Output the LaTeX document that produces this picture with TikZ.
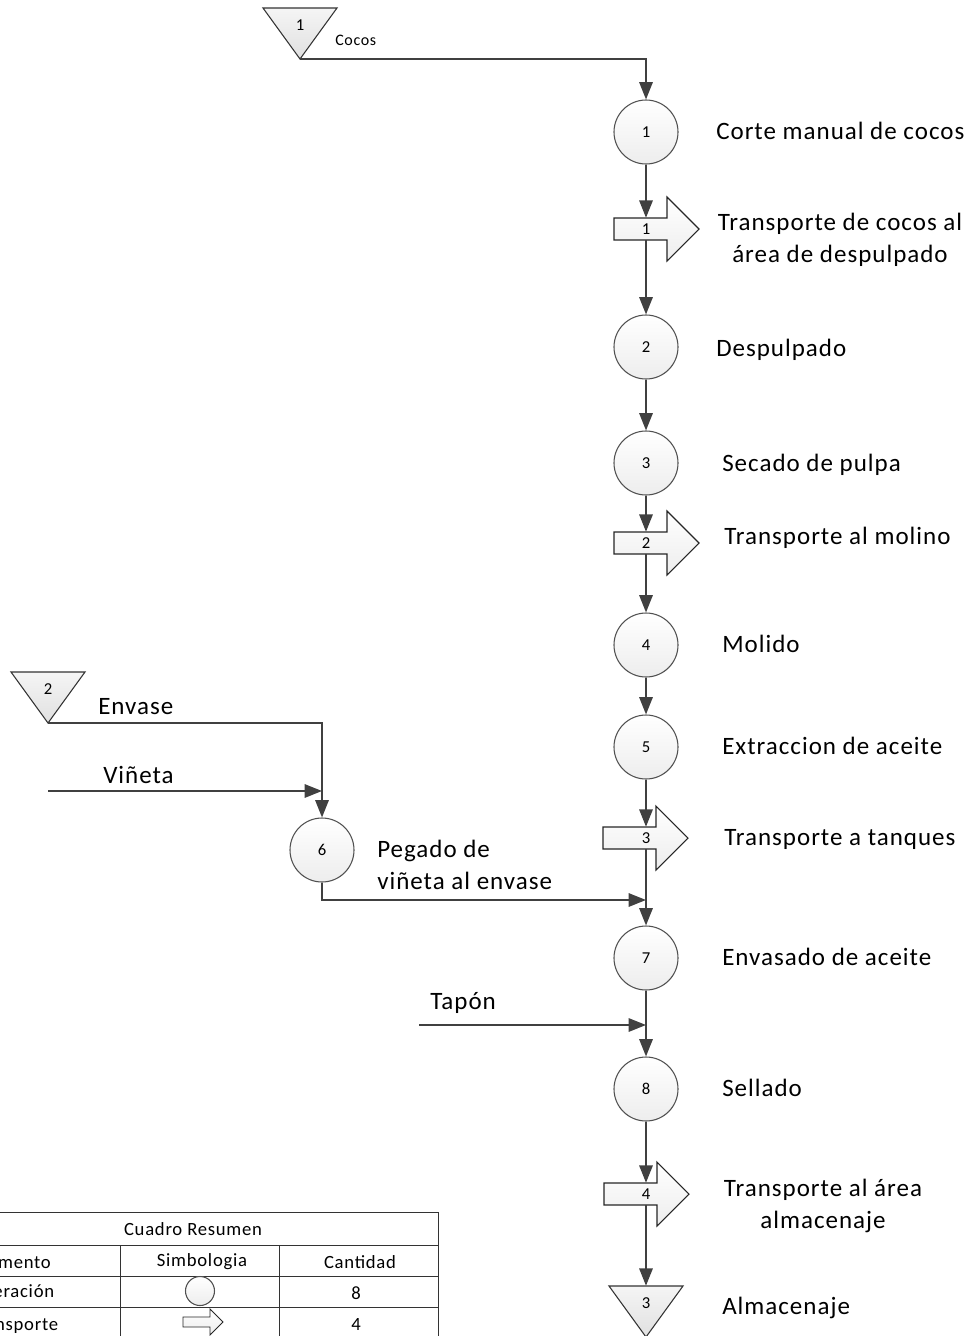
\documentclass[tikz,border=0pt]{standalone}
\usepackage{fontspec}
\setmainfont{Carlito}[LetterSpace=4]
\usetikzlibrary{arrows.meta,positioning,calc}
\definecolor{linegray}{HTML}{404040}
\definecolor{edgegray}{HTML}{505050}
\newcommand{\lblsize}{\fontsize{18.75pt}{24pt}\selectfont}
\newcommand{\numsize}{\fontsize{12.5pt}{14pt}\selectfont}
\newcommand{\tabsize}{\fontsize{14pt}{16pt}\selectfont}
\tikzset{
      flow/.style = {draw=linegray, line width=1.5pt,
                     -{Triangle[length=13pt,width=10pt]}},   % connectors
      oper/.style = {circle, draw=edgegray, line width=.8pt, minimum size=48pt,
                     inner sep=0pt, top color=white, bottom color=black!7,
                     font=\numsize},
    tshape/.style = {draw=black!85, line width=.8pt, top color=white,
                     bottom color=black!7},
      tnum/.style = {inner sep=0pt, minimum height=16.5pt, font=\numsize},
    sshape/.style = {draw=black!80, line width=.8pt, top color=black!4,
                     bottom color=black!12},
      snum/.style = {inner sep=0pt, minimum height=25.5pt, font=\numsize},
       lbl/.style = {anchor=mid west, inner sep=0pt, font=\lblsize, yshift=-3.5pt},
      tabl/.style = {draw=black!80, line width=.75pt},
      ttxt/.style = {inner sep=0pt, font=\tabsize},
}
% transport arrow: name, number point, body left offset, number
\newcommand{\transp}[4]{%
  \draw[tshape] ($(#2)+(#3,-11)$) -- ++(53,0) -- ++(0,-21) -- ++(32,32)
     -- ++(-32,32) -- ++(0,-21) -- ++(-53,0) -- cycle;
  \node[tnum] (#1) at (#2) {#4};}
% storage triangle: name, top centre, number
\newcommand{\almac}[3]{%
  \draw[sshape] ($(#2)+(-37,0)$) -- ++(74,0) -- ++(-37,51) -- cycle;
  \node[snum] (#1) at ($(#2)+(0,17)$) {#3};
  \coordinate (#1-tip) at ($(#2)+(0,51)$);}

\begin{document}
\begin{tikzpicture}[x=0.75pt,y=-0.75pt]
\clip (0,0) rectangle (968,1336);

% operations
\node[oper] (c1) at (646,132) {1};
\node[oper] (c2) at (646,347) {2};
\node[oper] (c3) at (646,463) {3};
\node[oper] (c4) at (646,645) {4};
\node[oper] (c5) at (646,747) {5};
\node[oper] (c6) at (322,850) {6};
\node[oper] (c7) at (646,958) {7};
\node[oper] (c8) at (646,1089) {8};

% transports
\transp{t1}{646,229}{-32}{1}
\transp{t2}{646,543}{-32}{2}
\transp{t3}{646,838}{-43}{3}
\transp{t4}{646,1194}{-42}{4}

% storage
\almac{s1}{300,8}{1}
\almac{s2}{48,672}{2}
\almac{s3}{646,1286}{3}

\coordinate (vin) at (48,791);
\coordinate (tap) at (419,1025);
\coordinate (j7) at (646,900);

% main line
\draw[flow] (s1-tip) -| (c1);
\draw[flow] (c1) -- (t1);
\draw[flow] (t1) -- (c2);
\draw[flow] (c2) -- (c3);
\draw[flow] (c3) -- (t2);
\draw[flow] (t2) -- (c4);
\draw[flow] (c4) -- (c5);
\draw[flow] (c5) -- (t3);
\draw[flow] (t3) -- (c7);
\draw[flow] (c7) -- (c8);
\draw[flow] (c8) -- (t4);
\draw[flow] (t4) -- (s3);
% side line
\draw[flow] (s2-tip) -| (c6);
\draw[flow] (vin) -- (vin -| c6);
\draw[flow] (c6) |- (j7);
\draw[flow] (tap) -- (tap -| c7);

% labels
\node[lbl, font=\fontsize{12pt}{14pt}\selectfont, yshift=-1pt] (lcocos) at (335,36) {Cocos};
\node[lbl] (lenv) at (98,707) {Envase};
\node[lbl] (lvin) at (103,776) {Viñeta};
\node[lbl, anchor=west, align=left, yshift=3pt] (l6) at (377,864) {Pegado de\\viñeta al envase};
\node[lbl] (ltap) at (430,1002) {Tapón};
\node[lbl] (l1) at (716,132) {Corte manual de cocos};
\node[lbl, anchor=center, align=center, yshift=2pt] (lt1) at (840,238) {Transporte de cocos al\\área de despulpado};
\node[lbl] (l2) at (716,349) {Despulpado};
\node[lbl] (l3) at (722,464) {Secado de pulpa};
\node[lbl] (lt2) at (724,537) {Transporte al molino};
\node[lbl] (l4) at (722,645) {Molido};
\node[lbl] (l5) at (722,747) {Extraccion de aceite};
\node[lbl] (lt3) at (724,838) {Transporte a tanques};
\node[lbl] (l7) at (722,958) {Envasado de aceite};
\node[lbl] (l8) at (722,1089) {Sellado};
\node[lbl, anchor=center, align=center, yshift=2pt] (lt4) at (823,1204) {Transporte al área\\almacenaje};
\node[lbl] (ls3) at (722,1307) {Almacenaje};

% summary table
\draw[tabl] (-90,1212) rectangle (438,1350);
\draw[tabl] (-90,1245) -- (438,1245) (-90,1276) -- (438,1276) (-90,1307) -- (438,1307);
\draw[tabl] (120,1245) -- (120,1350) (279,1245) -- (279,1350);
\node[ttxt] (th) at (193,1229) {Cuadro Resumen};
\node[ttxt] (h1) at (12,1262) {Elemento};
\node[ttxt] (h2) at (202,1262) {Simbologia};
\node[ttxt] (h3) at (360,1262) {Cantidad};
\node[ttxt] (r1) at (12,1293) {Operación};
\node[oper, minimum size=21.75pt] (sym1) at (200,1291) {};
\node[ttxt] (n1) at (356,1293) {8};
\node[ttxt] (r2) at (14,1326) {Transporte};
\draw[tshape, line width=.7pt] (183,1317) -- ++(27,0) -- ++(0,-8) -- ++(13,13)
   -- ++(-13,13) -- ++(0,-8) -- ++(-27,0) -- cycle;
\node[ttxt] (n2) at (356,1324) {4};
\end{tikzpicture}
\end{document}
